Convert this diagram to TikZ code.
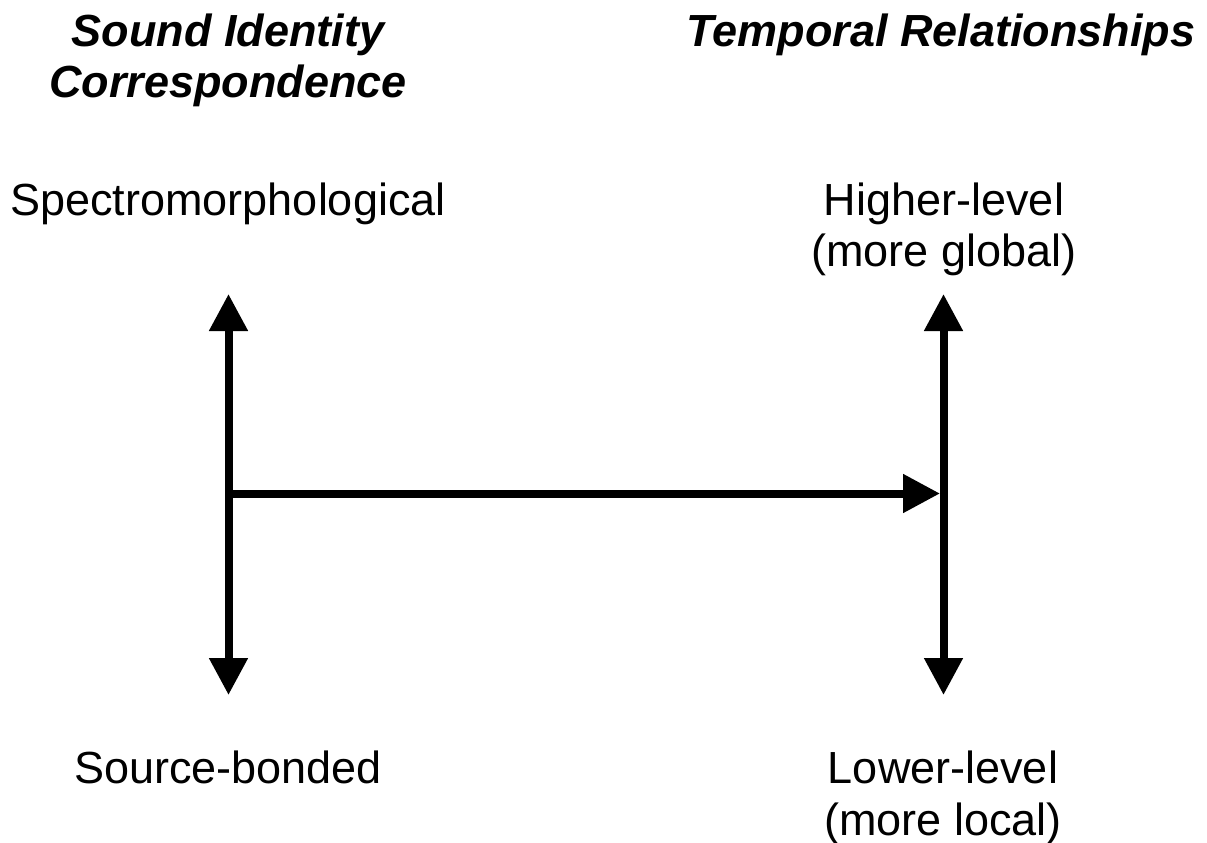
\documentclass[tikz,border=0pt]{standalone}
\usepackage{fontspec}
\setmainfont{Liberation Sans}
\usetikzlibrary{arrows.meta}
\begin{document}
\begin{tikzpicture}[x=1pt,y=-1pt,
  lbl/.style={anchor=base,inner sep=0pt,font=\fontsize{45}{51}\selectfont},
  ttl/.style={lbl,font=\fontsize{45}{51}\selectfont\bfseries\itshape},
  axis/.style={line width=8pt,-{Triangle[width=37pt,length=37pt]}},
  biaxis/.style={line width=8pt,{Triangle[width=37pt,length=37pt]}-{Triangle[width=37pt,length=37pt]}}]
\useasboundingbox (0,0) rectangle (1207,843);
% titles
\node[ttl] (t1a) at (228,47) {Sound Identity};
\node[ttl] (t1b) at (228,97) {Correspondence};
\node[ttl] (t2) at (941,47) {Temporal Relationships};
% labels
\node[lbl] (spec) at (228,215) {Spectromorphological};
\node[lbl] (src) at (228,783) {Source-bonded};
\node[lbl] (high) at (944,215) {Higher-level};
\node[lbl] (highb) at (944,266) {(more global)};
\node[lbl] (low) at (943,783) {Lower-level};
\node[lbl] (lowb) at (943,835) {(more local)};
% axes
\coordinate (ltop) at (228.5,294);
\coordinate (lbot) at (228.5,695);
\coordinate (rtop) at (943.5,294);
\coordinate (rbot) at (943.5,695);
\coordinate (hstart) at (228.5,493.5);
\coordinate (hend) at (940,493.5);
\draw[biaxis] (ltop) -- (lbot);
\draw[biaxis] (rtop) -- (rbot);
\draw[axis] (hstart) -- (hend);
\end{tikzpicture}
\end{document}
